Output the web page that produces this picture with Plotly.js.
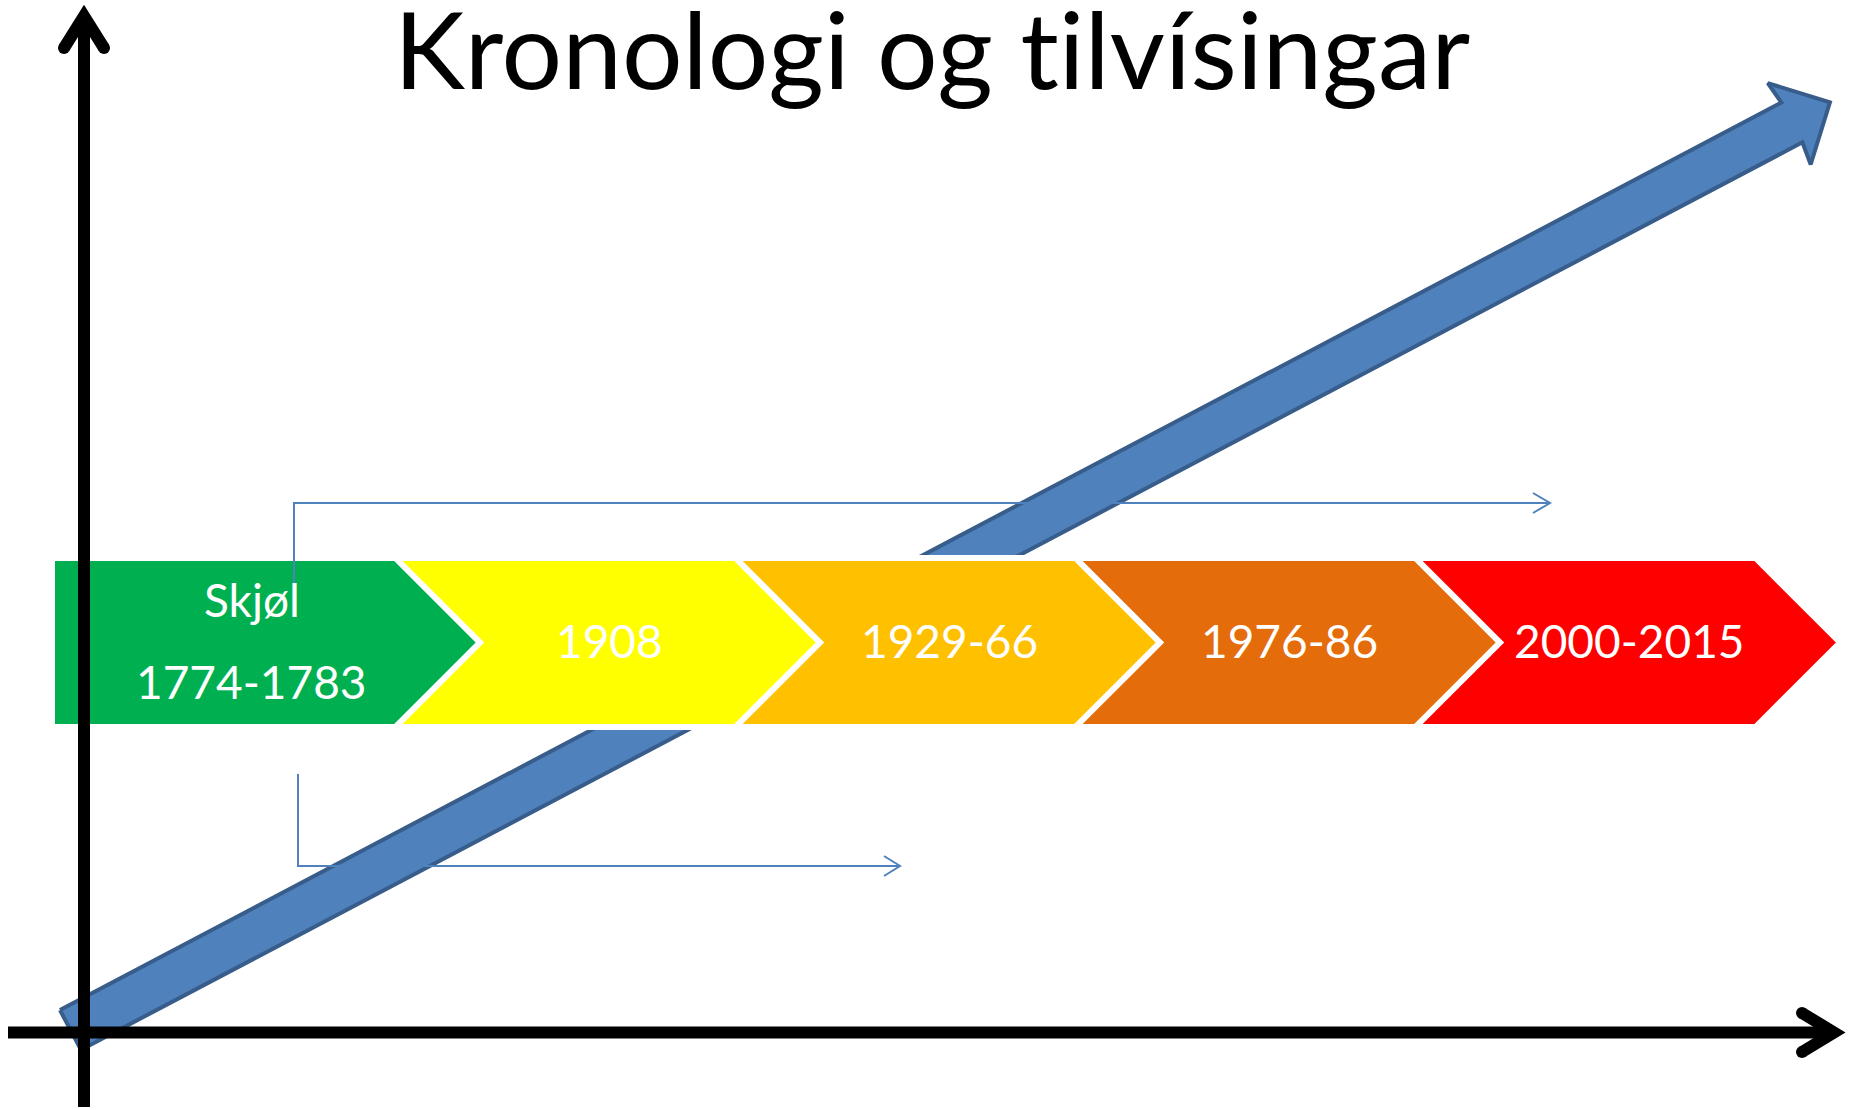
<!DOCTYPE html>
<html><head><meta charset="utf-8">
<script src="https://cdn.plot.ly/plotly-3.0.1.min.js"></script>
<style>
html,body{margin:0;padding:0;background:#fff;overflow:hidden}
#chart{width:1853px;height:1110px}
#chart text{font-variant-ligatures:none;font-feature-settings:"liga" 0,"clig" 0,"dlig" 0}
</style>
</head><body><div id="chart"></div>
<script>
// ---- content ----
const chartTitle = 'Kronologi og tilvísingar';
const periodNames = ['Skjøl', '', '', '', ''];
const periodYears = ['1774-1783', '1908', '1929-66', '1976-86', '2000-2015'];
const periodColours = ['#00B050', '#FFFF00', '#FFC000', '#E46C0A', '#FF0000'];

// ---- layout geometry (pixel space of the figure) ----
const W = 1853, H = 1110;
const bandTop = 558, bandBottom = 727;
const bandMid = (bandTop + bandBottom) / 2, half = (bandBottom - bandTop) / 2;
const bandStart = 52, firstBoundary = 395.5, step = 340;
const font = 'Lato, "Open Sans", sans-serif';

const traces = [];

// big blue trend arrow
(function () {
  const ox = 70.5, oy = 1030, ang = 27.8 * Math.PI / 180;
  const ux = Math.cos(ang), uy = -Math.sin(ang), nx = Math.sin(ang), ny = Math.cos(ang);
  const shaftHalf = 22.5, shaftLen = 1946, headHalf = 46, tipLen = 1989;
  const pts = [[0, -shaftHalf], [shaftLen, -shaftHalf], [shaftLen - 3, -headHalf], [tipLen, 0],
               [shaftLen - 3, headHalf], [shaftLen, shaftHalf], [0, shaftHalf], [0, -shaftHalf]];
  traces.push({
    type: 'scatter', mode: 'lines', hoverinfo: 'skip',
    x: pts.map(p => ox + p[0] * ux + p[1] * nx),
    y: pts.map(p => oy + p[0] * uy + p[1] * ny),
    fill: 'toself', fillcolor: '#4F81BD',
    line: { color: '#385D8A', width: 4 }
  });
})();

// chevrons
const annotations = [];
const textMid = bandMid - 2.5;
periodYears.forEach((yr, i) => {
  const b0 = i === 0 ? bandStart : firstBoundary + step * (i - 1);
  const b1 = firstBoundary + step * i;
  let xs, ys;
  if (i === 0) {
    xs = [b0, b1, b1 + half, b1, b0, b0];
    ys = [bandTop, bandTop, bandMid, bandBottom, bandBottom, bandTop];
  } else {
    xs = [b0, b1, b1 + half, b1, b0, b0 + half, b0];
    ys = [bandTop, bandTop, bandMid, bandBottom, bandBottom, bandMid, bandTop];
  }
  traces.push({
    type: 'scatter', mode: 'lines', hoverinfo: 'skip', x: xs, y: ys,
    fill: 'toself', fillcolor: periodColours[i],
    line: { color: '#FFFFFF', width: 6 }
  });
  const cx = i === 0 ? (b0 + b1) / 2 + half / 3 : (b0 + b1 + half) / 2 + 2;
  const f = { family: font, size: 46, color: '#FFFFFF' };
  if (periodNames[i]) {
    annotations.push({ x: cx, y: textMid - 41, xref: 'x', yref: 'y', text: periodNames[i], showarrow: false,
      font: f, xanchor: 'center', yanchor: 'middle' });
    annotations.push({ x: cx, y: textMid + 41, xref: 'x', yref: 'y', text: yr, showarrow: false,
      font: f, xanchor: 'center', yanchor: 'middle' });
  } else {
    annotations.push({ x: cx, y: textMid, xref: 'x', yref: 'y', text: yr, showarrow: false,
      font: f, xanchor: 'center', yanchor: 'middle' });
  }
});

// thin reference connectors
traces.push({
  type: 'scatter', mode: 'lines', hoverinfo: 'skip',
  x: [294, 294, 1550, null, 1533, 1550, 1533, null, 298, 298, 900, null, 884, 900, 884],
  y: [593, 503, 503, null, 493, 503, 513, null, 774, 866, 866, null, 856, 866, 876],
  line: { color: '#4F81BD', width: 2 }
});

// black axes
traces.push({
  type: 'scatter', mode: 'lines', hoverinfo: 'skip',
  x: [84, 84, null, 8, 1834],
  y: [1107, 18, null, 1032.5, 1032.5],
  line: { color: '#000000', width: 12 }
});
traces.push({
  type: 'scatter', mode: 'lines', hoverinfo: 'skip',
  x: [64, 84, 104, null, 1802, 1834, 1802],
  y: [48, 16, 48, null, 1013, 1032.5, 1052],
  line: { color: '#000000', width: 12 }
});
traces.push({
  type: 'scatter', mode: 'markers', hoverinfo: 'skip',
  x: [64, 104, 1802, 1802], y: [48, 48, 1013, 1052],
  marker: { color: '#000000', size: 12, symbol: 'circle', line: { width: 0 } }
});

const layout = {
  width: W, height: H,
  margin: { l: 0, r: 0, t: 0, b: 0, pad: 0 },
  paper_bgcolor: '#FFFFFF', plot_bgcolor: '#FFFFFF',
  showlegend: false,
  title: { text: chartTitle, font: { family: font, size: 107, color: '#000000' },
    x: 932 / W, xanchor: 'center', y: 1 - 52 / H, yanchor: 'middle', yref: 'container', xref: 'container' },
  xaxis: { range: [0, W], visible: false, fixedrange: true },
  yaxis: { range: [H, 0], visible: false, fixedrange: true },
  annotations: annotations
};

Plotly.newPlot('chart', traces, layout, { staticPlot: true, displayModeBar: false });
</script>
</body></html>
